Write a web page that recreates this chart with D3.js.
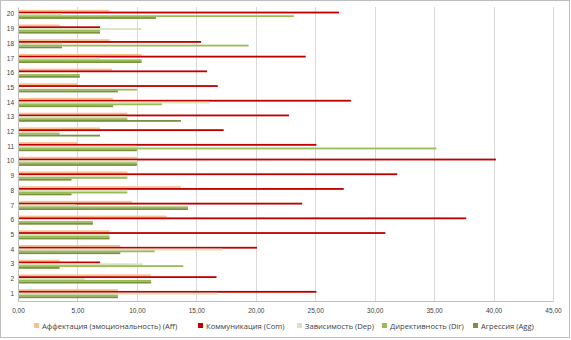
<!DOCTYPE html>
<html>
<head>
<meta charset="utf-8">
<script src="https://cdn.jsdelivr.net/npm/d3@7"></script>
<style>
  body { margin: 0; background: #fff; }
  svg { display: block; font-family: "Open Sans", "Liberation Sans", sans-serif; }
</style>
</head>
<body>
<script>
// Data (categories 1..20, five series)
const categories = ['1','2','3','4','5','6','7','8','9','10','11','12','13','14','15','16','17','18','19','20'];
const seriesNames = ['Аффектация (эмоциональность) (Aff)', 'Коммуникация (Com)', 'Зависимость (Dep)', 'Директивность (Dir)', 'Агрессия (Agg)'];
const aff = [8.4, 11.2, 3.5, 8.6, 7.7, 12.5, 9.6, 13.7, 9.2, 10.0, 5.0, 6.9, 9.2, 8.0, 5.0, 7.9, 10.4, 7.7, 3.5, 7.7];
const com = [25.1, 16.7, 6.9, 20.1, 30.9, 37.7, 23.9, 27.4, 31.9, 40.2, 25.1, 17.3, 22.8, 28.0, 16.8, 15.9, 24.2, 15.4, 6.9, 27.0];
const dep = [16.8, 5.6, 10.5, 17.2, 7.7, 0, 4.9, 9.2, 9.2, 10.0, 10.0, 3.5, 9.2, 16.1, 0, 0, 6.9, 3.7, 10.4, 3.7];
const dir = [8.4, 11.2, 13.9, 11.5, 7.7, 6.3, 14.3, 9.2, 9.2, 10.0, 35.2, 3.5, 9.2, 12.1, 10.0, 5.2, 10.4, 19.4, 6.9, 23.2];
const agg = [8.4, 11.2, 3.5, 8.6, 7.7, 6.3, 14.3, 4.5, 4.5, 10.0, 10.0, 6.9, 13.7, 8.0, 8.4, 5.2, 10.4, 3.7, 6.9, 11.6];
const xTicks = [0, 5, 10, 15, 20, 25, 30, 35, 40, 45];

const seriesValues = [aff, com, dep, dir, agg];
const colors = ['#fac090', '#c00000', '#d7e4bd', '#9bbb59', '#77933c'];

const w = 571, h = 340;
const margin = { left: 18, right: 18, top: 7, bottom: 39 };

const svg = d3.select('body').append('svg')
  .attr('width', w)
  .attr('height', h);

// chart border
svg.append('rect')
  .attr('x', 0.5).attr('y', 0.5)
  .attr('width', w - 2).attr('height', h - 3)
  .attr('fill', '#fff')
  .attr('stroke', '#bfbfbf');

const x = d3.scaleLinear()
  .domain([0, 45])
  .range([margin.left, w - margin.right]);

// category 1 at the bottom
const y = d3.scaleBand()
  .domain(categories.slice().reverse())
  .range([margin.top, h - margin.bottom])
  .paddingInner(0.38)
  .paddingOuter(0.19);

const ySub = d3.scaleBand()
  .domain(d3.range(seriesNames.length))
  .range([0, y.bandwidth()]);

// gridlines
svg.append('g')
  .selectAll('line')
  .data(xTicks.slice(1))
  .enter()
  .append('line')
  .attr('x1', d => Math.round(x(d)) + 0.5)
  .attr('x2', d => Math.round(x(d)) + 0.5)
  .attr('y1', margin.top)
  .attr('y2', h - margin.bottom)
  .attr('stroke', '#d9d9d9');

// bars
seriesValues.forEach((vals, s) => {
  svg.append('g')
    .selectAll('rect')
    .data(vals)
    .enter()
    .append('rect')
    .attr('x', x(0))
    .attr('y', (d, i) => y(categories[i]) + ySub(s))
    .attr('width', d => x(d) - x(0))
    .attr('height', ySub.bandwidth())
    .attr('fill', colors[s]);
});

// axes
const xAxis = svg.append('g')
  .attr('transform', `translate(0,${h - margin.bottom})`)
  .call(d3.axisBottom(x).tickValues(xTicks).tickSize(0).tickPadding(7)
    .tickFormat(d => d3.format('.2f')(d).replace('.', ',')));
xAxis.select('.domain').attr('stroke', '#bfbfbf');
xAxis.selectAll('text').attr('font-size', '6.5px').attr('fill', '#404040');

const yAxis = svg.append('g')
  .attr('transform', `translate(${margin.left},0)`)
  .call(d3.axisLeft(y).tickSize(0).tickPadding(4));
yAxis.select('.domain').attr('stroke', '#bfbfbf');
yAxis.selectAll('text').attr('font-size', '6.5px').attr('fill', '#404040');

// legend
const legendX = [34, 198, 297, 382, 473];
const legend = svg.append('g')
  .selectAll('g')
  .data(seriesNames)
  .enter()
  .append('g')
  .attr('transform', (d, i) => `translate(${legendX[i]},326)`);

legend.append('rect')
  .attr('x', 0).attr('y', -3)
  .attr('width', 5).attr('height', 5)
  .attr('fill', (d, i) => colors[i]);

legend.append('text')
  .attr('x', 8)
  .attr('y', 2.5)
  .attr('font-size', '7.6px')
  .attr('fill', '#404040')
  .text(d => d);
</script>
</body>
</html>
